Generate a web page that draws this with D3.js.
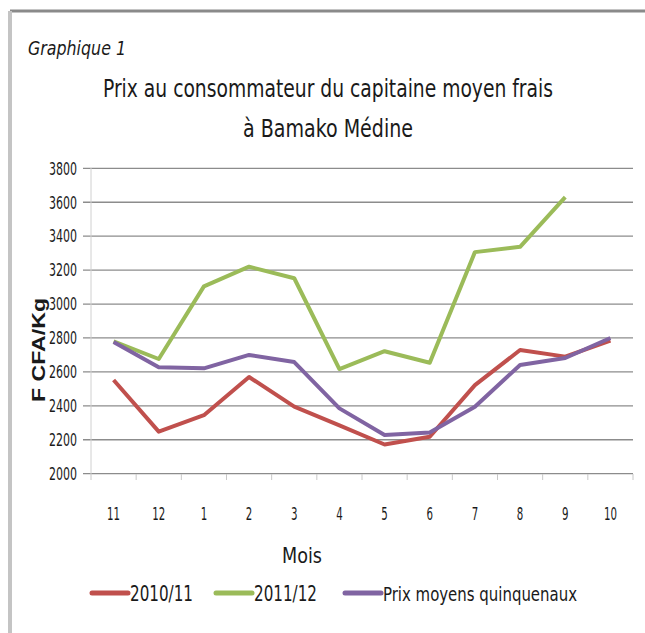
<!DOCTYPE html>
<html>
<head>
<meta charset="utf-8">
<script src="https://cdn.jsdelivr.net/npm/d3@7"></script>
<style>
  body { margin: 0; background: #fff; }
  svg text { fill: #1a1a1a; }
</style>
</head>
<body>
<div id="chart"></div>
<script>
// chart data
var months = ["11", "12", "1", "2", "3", "4", "5", "6", "7", "8", "9", "10"];
var yTicks = [2000, 2200, 2400, 2600, 2800, 3000, 3200, 3400, 3600, 3800];
var prix2010 = [2552, 2248, 2345, 2570, 2395, 2285, 2172, 2218, 2522, 2729, 2690, 2785];
var prix2011 = [2780, 2676, 3104, 3220, 3152, 2617, 2722, 2654, 3306, 3337, 3630, null];
var prixMoyens = [2776, 2627, 2621, 2700, 2658, 2385, 2228, 2243, 2395, 2641, 2682, 2800];
var seriesNames = ["2010/11", "2011/12", "Prix moyens quinquenaux"];
var seriesColors = ["#c0504d", "#9bbb59", "#8064a2"];

var Width = 645, Height = 633;
var narrow = "'DejaVu Sans Condensed', 'Liberation Sans Narrow', sans-serif";

var svg = d3.select("#chart").append("svg")
  .attr("width", Width)
  .attr("height", Height);

// frame of the picture
svg.append("line").attr("x1", 10).attr("x2", Width).attr("y1", 11).attr("y2", 11)
  .attr("stroke", "#8a8a8a").attr("stroke-width", 3);
svg.append("line").attr("x1", 10).attr("x2", 10).attr("y1", 11).attr("y2", Height)
  .attr("stroke", "#c4c4c4").attr("stroke-width", 4);

// titles
svg.append("text").attr("x", 28).attr("y", 55)
  .attr("font-family", narrow).attr("font-style", "italic")
  .attr("font-size", 19).attr("textLength", 98).attr("lengthAdjust", "spacingAndGlyphs")
  .text("Graphique 1");
svg.append("text").attr("x", 328).attr("y", 97)
  .attr("text-anchor", "middle").attr("font-family", narrow)
  .attr("font-size", 24).attr("textLength", 450).attr("lengthAdjust", "spacingAndGlyphs")
  .text("Prix au consommateur du capitaine moyen frais");
svg.append("text").attr("x", 328).attr("y", 137)
  .attr("text-anchor", "middle").attr("font-family", narrow)
  .attr("font-size", 24).attr("textLength", 170).attr("lengthAdjust", "spacingAndGlyphs")
  .text("à Bamako Médine");

// scales
var x = d3.scaleBand().domain(months).range([91, 633]);
var y = d3.scaleLinear().domain([2000, 3800]).range([473.7, 168.3]);

// gridlines
svg.append("g").selectAll("line").data(yTicks).enter().append("line")
  .attr("x1", 83).attr("x2", 633)
  .attr("y1", function(d) { return y(d); })
  .attr("y2", function(d) { return y(d); })
  .attr("stroke", "#8c8c8c").attr("stroke-width", 1.3);

// y axis
var yAxis = d3.axisLeft(y).tickValues(yTicks).tickFormat(d3.format("d"))
  .tickSize(0).tickPadding(0);
var yg = svg.append("g").attr("transform", "translate(77,0)").call(yAxis);
yg.select(".domain").remove();
yg.selectAll("text").attr("font-family", narrow).attr("font-size", 17)
  .attr("fill", "#222").attr("dy", "0.34em")
  .attr("textLength", 28).attr("lengthAdjust", "spacingAndGlyphs");
svg.append("line").attr("x1", 91).attr("x2", 91).attr("y1", 168).attr("y2", 474)
  .attr("stroke", "#d0d0d0").attr("stroke-width", 1);

// x axis
var xAxis = d3.axisBottom(x).tickSize(0).tickPadding(0);
var xg = svg.append("g").attr("transform", "translate(0,508)").call(xAxis);
xg.select(".domain").remove();
xg.selectAll("text").attr("font-family", narrow).attr("font-size", 17)
  .attr("fill", "#222")
  .attr("textLength", function(d) { return d.length * 6.5; })
  .attr("lengthAdjust", "spacingAndGlyphs");
var bounds = months.map(function(m) { return x(m); }).concat([633]);
svg.append("g").selectAll("line").data(bounds).enter().append("line")
  .attr("x1", function(d) { return d; }).attr("x2", function(d) { return d; })
  .attr("y1", 474).attr("y2", 480)
  .attr("stroke", "#c8c8c8").attr("stroke-width", 1);

// axis titles
svg.append("text").attr("transform", "translate(45,350) rotate(-90)")
  .attr("text-anchor", "middle").attr("font-family", "'Liberation Sans', Arial, sans-serif")
  .attr("font-weight", "bold").attr("font-size", 18)
  .attr("textLength", 104).attr("lengthAdjust", "spacingAndGlyphs").text("F CFA/Kg");
svg.append("text").attr("x", 302).attr("y", 563)
  .attr("text-anchor", "middle").attr("font-family", narrow)
  .attr("font-size", 22).attr("textLength", 40).attr("lengthAdjust", "spacingAndGlyphs")
  .text("Mois");

// lines
var allSeries = [prix2010, prix2011, prixMoyens];
var line = d3.line()
  .defined(function(d) { return d !== null; })
  .x(function(d, i) { return x(months[i]) + x.bandwidth() / 2; })
  .y(function(d) { return y(d); });

svg.append("g").selectAll("path").data(allSeries).enter().append("path")
  .attr("d", line)
  .attr("fill", "none")
  .attr("stroke", function(d, i) { return seriesColors[i]; })
  .attr("stroke-width", 4)
  .attr("stroke-linejoin", "round");

// legend
var legendX = [92, 216, 345];
var legendW = [63, 63, 194];
var legend = svg.append("g").selectAll("g").data(seriesNames).enter().append("g")
  .attr("transform", function(d, i) { return "translate(" + legendX[i] + ",593)"; });
legend.append("line").attr("x1", 0).attr("x2", 36).attr("y1", 0).attr("y2", 0)
  .attr("stroke", function(d, i) { return seriesColors[i]; })
  .attr("stroke-width", 5).attr("stroke-linecap", "round");
legend.append("text").attr("x", 38).attr("y", 8)
  .attr("font-family", narrow)
  .attr("font-size", function(d, i) { return i === 2 ? 19 : 22; })
  .attr("textLength", function(d, i) { return legendW[i]; })
  .attr("lengthAdjust", "spacingAndGlyphs")
  .text(function(d) { return d; });
</script>
</body>
</html>
